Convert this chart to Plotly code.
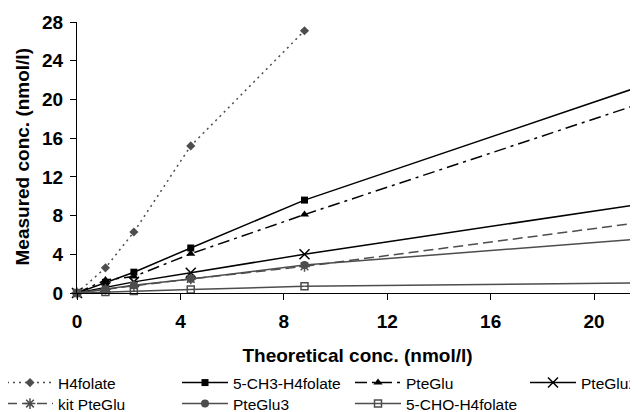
import plotly.graph_objects as go

# ---- data ----
x_conc = [0, 1.1, 2.2, 4.4, 8.8]
h4folate = [0, 2.6, 6.3, 15.2, 27.1]
ch3_h4folate = [0, 1.1, 2.15, 4.65, 9.6]
pteglu = [0, 1.35, 1.7, 4.05, 8.1]
pteglu2 = [0, 0.6, 1.15, 2.1, 4.0]
kit_pteglu = [0, 0.4, 0.75, 1.45, 2.75]
pteglu3 = [0, 0.4, 0.8, 1.45, 2.9]
cho_h4folate = [0, 0.1, 0.2, 0.35, 0.7]

# continuation of each series beyond the visible x-range (line runs off the right edge)
x_ext = [8.8, 22]
ch3_ext = [9.6, 21.54]
pteglu_ext = [8.1, 19.75]
pteglu2_ext = [4.0, 9.27]
kit_pteglu_ext = [2.75, 7.36]
pteglu3_ext = [2.9, 5.62]
cho_ext = [0.7, 1.06]

x_ticks = [0, 4, 8, 12, 16, 20]
y_ticks = [0, 4, 8, 12, 16, 20, 24, 28]

FONT = "Liberation Sans"
GRAY = "#4d4d4d"
BLACK = "#000000"

series = [
    # name, y, ext, color, dash, symbol, size
    ("H4folate", h4folate, None, GRAY, "2px,4px", "diamond", 7),
    ("5-CH3-H4folate", ch3_h4folate, ch3_ext, BLACK, "solid", "square", 7),
    ("PteGlu", pteglu, pteglu_ext, BLACK, "12px,5px,3px,5px", "triangle-up", 8),
    ("PteGlu2", pteglu2, pteglu2_ext, BLACK, "solid", "x-thin-open", 10),
    ("kit PteGlu", kit_pteglu, kit_pteglu_ext, GRAY, "10px,5px", "asterisk-open", 9),
    ("PteGlu3", pteglu3, pteglu3_ext, GRAY, "solid", "circle", 8),
    ("5-CHO-H4folate", cho_h4folate, cho_ext, GRAY, "solid", "square-open", 7),
]

# legend slot (column, row) for each series, in the reference's 4-column layout
legend_cols = [0, 1, 2, 3, 0, 1, 2]
legend_rows = [0, 0, 0, 0, 1, 1, 1]

W, H = 630, 404  # page body has an 8px offset
ML, MR, MT, MB = 69, 0, 14, 119
PW = W - ML - MR

fig = go.Figure()
for i, (name, ys, ext, color, dash, symbol, size) in enumerate(series):
    leg = "legend" if i == 0 else f"legend{i + 1}"
    if ext is not None:
        fig.add_trace(go.Scatter(
            x=x_ext, y=ext, mode="lines", showlegend=False, hoverinfo="skip",
            line=dict(color=color, width=1.5, dash=dash),
        ))
    open_sym = symbol.endswith("open")
    fig.add_trace(go.Scatter(
        x=x_conc, y=ys, mode="lines+markers", name=name, legend=leg,
        line=dict(color=color, width=1.5, dash=dash),
        marker=dict(symbol=symbol, size=size, color=color,
                    line=dict(color=color, width=1.5 if open_sym else 0)),
        cliponaxis=False,
    ))

tickfont = dict(family=FONT, size=19, color="black", weight="bold")
titlefont = dict(family=FONT, size=19, color="black", weight="bold")

fig.update_layout(
    width=W, height=H,
    margin=dict(l=ML, r=MR, t=MT, b=MB, autoexpand=False),
    paper_bgcolor="white", plot_bgcolor="white",
    font=dict(family=FONT, color="black"),
    xaxis=dict(
        range=[0, 21.7], tickvals=x_ticks, ticktext=[str(v) for v in x_ticks],
        showgrid=False, zeroline=False, showline=True, linecolor="black", linewidth=1,
        ticks="outside", ticklen=6, tickcolor="black", tickfont=tickfont,
        ticklabelstandoff=5,
        title=dict(text="Theoretical conc. (nmol/l)", font=titlefont, standoff=20),
    ),
    yaxis=dict(
        range=[0, 28], tickvals=y_ticks, ticktext=[str(v) for v in y_ticks],
        showgrid=False, zeroline=False, showline=True, linecolor="black", linewidth=1,
        ticks="outside", ticklen=6, tickcolor="black", tickfont=tickfont,
        ticklabelstandoff=3,
    ),
    annotations=[dict(
        text="Measured conc. (nmol/l)", textangle=-90, showarrow=False,
        xref="paper", yref="paper", x=(14 - ML) / PW, y=0.5,
        xanchor="center", yanchor="middle", font=titlefont,
    )],
)

col_origin_px = [-6, 169, 342, 517]
row_center_px = [375, 396]
legends = {}
for i in range(len(series)):
    key = "legend" if i == 0 else f"legend{i + 1}"
    legends[key] = dict(
        orientation="v", xref="paper", yref="container",
        xanchor="left", yanchor="middle",
        x=(col_origin_px[legend_cols[i]] - ML) / PW,
        y=1 - row_center_px[legend_rows[i]] / H,
        font=dict(family=FONT, size=15.5, color="black"),
        bgcolor="rgba(0,0,0,0)", itemwidth=46, tracegroupgap=0,
    )
fig.update_layout(**legends)

fig.write_html("out.html")
